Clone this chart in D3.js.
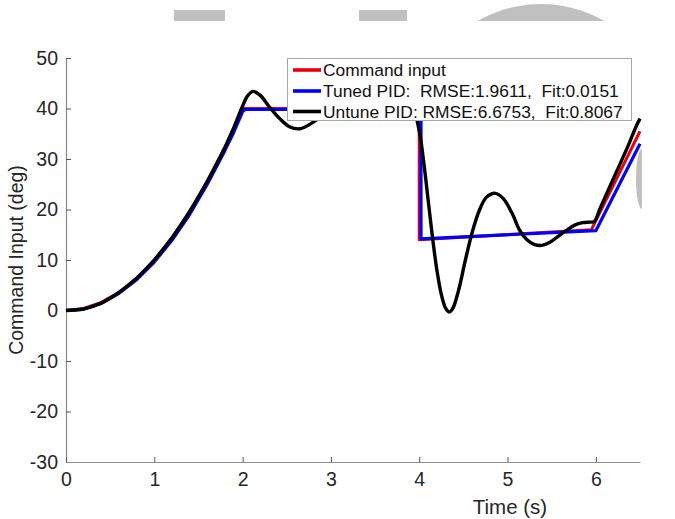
<!DOCTYPE html>
<html>
<head>
<meta charset="utf-8">
<script src="https://cdn.jsdelivr.net/npm/d3@7"></script>
<style>
  html, body { margin: 0; padding: 0; background: #fff; }
  svg { display: block; font-family: "Liberation Sans", Arial, sans-serif; }
</style>
</head>
<body>
<svg id="chart" width="675" height="519"></svg>
<script>
// ---------- data ----------
const xTicks = [0, 1, 2, 3, 4, 5, 6];
const yTicks = [-30, -20, -10, 0, 10, 20, 30, 40, 50];

const seriesNames = [
  "Command input",
  "Tuned PID:  RMSE:1.9611,  Fit:0.0151",
  "Untune PID: RMSE:6.6753,  Fit:0.8067"
];

const commandT = [0, 0.2, 0.4, 0.6, 0.8, 1.0, 1.2, 1.4, 1.6, 1.8, 1.9, 2.0, 4.0, 4.0, 5.95, 6.5];
const commandV = [0, 0.4, 1.6, 3.6, 6.4, 10.0, 14.4, 19.6, 25.6, 32.4, 36.1, 40.0, 40.0, 14.0, 16.0, 35.5];

const tunedT = [0, 0.2, 0.4, 0.6, 0.8, 1.0, 1.2, 1.4, 1.6, 1.8, 1.9, 2.0, 2.03, 4.02, 4.02, 6.0, 6.5];
const tunedV = [0, 0.3, 1.4, 3.4, 6.1, 9.6, 13.9, 19.0, 25.0, 31.7, 35.3, 39.4, 39.8, 39.8, 14.2, 15.8, 33.0];

const untunedT = [0, 0.2, 0.4, 0.6, 0.8, 1.0, 1.2, 1.4, 1.6, 1.8, 1.9, 2.0, 2.06, 2.12, 2.2, 2.3, 2.42, 2.53, 2.65, 2.8, 2.95, 3.1, 3.3, 3.5, 3.7, 3.85, 3.93, 4.0, 4.05, 4.1, 4.15, 4.2, 4.25, 4.3, 4.34, 4.38, 4.45, 4.52, 4.6, 4.68, 4.76, 4.86, 4.95, 5.05, 5.14, 5.22, 5.3, 5.39, 5.48, 5.58, 5.67, 5.76, 5.85, 5.93, 5.98, 6.05, 6.15, 6.25, 6.35, 6.46, 6.5];
const untunedV = [0, 0.3, 1.5, 3.6, 6.4, 10.0, 14.4, 19.6, 25.6, 32.3, 36.2, 40.5, 42.6, 43.4, 42.6, 40.4, 38.0, 36.4, 36.0, 37.3, 39.2, 40.6, 41.0, 40.4, 40.0, 40.2, 39.8, 35.5, 29.5, 22.0, 14.5, 8.0, 3.2, 0.4, -0.3, 0.4, 4.3, 9.8, 15.5, 19.8, 22.4, 23.2, 22.2, 19.3, 15.8, 14.0, 13.1, 12.9, 13.5, 14.8, 15.9, 16.9, 17.4, 17.5, 17.6, 20.3, 24.2, 28.1, 32.0, 36.6, 38.0];

const colors = ["#e8000b", "#0000ff", "#000000"];

// ---------- layout ----------
const svg = d3.select("#chart");
const x = d3.scaleLinear().domain([0, 6.5]).range([66, 640]);
const y = d3.scaleLinear().domain([-30, 50]).range([462, 58]);

// decorative gray shapes at top (present in reference)
const deco = svg.append("g").attr("fill", "#c0c0c0");
deco.append("rect").attr("x", 174).attr("y", 10).attr("width", 51).attr("height", 11);
deco.append("rect").attr("x", 359).attr("y", 10).attr("width", 48).attr("height", 11);
svg.append("clipPath").attr("id", "topclip").append("rect").attr("x", 0).attr("y", 0).attr("width", 675).attr("height", 21);
deco.append("circle").attr("cx", 541).attr("cy", 131).attr("r", 127).attr("clip-path", "url(#topclip)");
svg.append("clipPath").attr("id", "rightclip").append("rect").attr("x", 600).attr("y", 0).attr("width", 42).attr("height", 519);
deco.append("ellipse").attr("cx", 642).attr("cy", 179).attr("rx", 6).attr("ry", 30).attr("clip-path", "url(#rightclip)");

// ---------- axes ----------
const axisColor = "#8c8c8c";
const textColor = "#262626";
const fmt = d => String(d);

const yAxis = svg.append("g").attr("transform", `translate(${x(0)},0)`)
  .call(d3.axisLeft(y).tickValues(yTicks).tickSize(-5).tickSizeOuter(0).tickPadding(8).tickFormat(fmt));
const xAxis = svg.append("g").attr("transform", `translate(0,${y(-30)})`)
  .call(d3.axisBottom(x).tickValues(xTicks).tickSize(-5).tickSizeOuter(0).tickPadding(10).tickFormat(fmt));

[xAxis, yAxis].forEach(g => {
  g.select(".domain").attr("stroke", axisColor).attr("stroke-width", 1.2);
  g.selectAll(".tick line").attr("stroke", "#555").attr("stroke-width", 1);
  g.selectAll(".tick text").attr("fill", textColor).style("font-size", "19.5px")
    .style("font-family", "'Liberation Sans', Arial, sans-serif");
});

// axis labels
svg.append("text")
  .attr("x", 510).attr("y", 506)
  .attr("text-anchor", "middle").attr("dominant-baseline", "central")
  .attr("fill", textColor).style("font-size", "20.5px")
  .text("Time (s)");
svg.append("text")
  .attr("transform", `translate(16,${(y(50) + y(-30)) / 2}) rotate(-90)`)
  .attr("text-anchor", "middle").attr("dominant-baseline", "central")
  .attr("fill", textColor).style("font-size", "19.5px")
  .text("Command Input (deg)");

// ---------- lines ----------
const series = [
  { t: commandT, v: commandV, curve: d3.curveLinear, w: 3 },
  { t: tunedT, v: tunedV, curve: d3.curveLinear, w: 3.2 },
  { t: untunedT, v: untunedV, curve: d3.curveCatmullRom.alpha(0.5), w: 3.4 }
];
series.forEach((s, i) => {
  const pts = s.t.map((t, k) => [t, s.v[k]]);
  const line = d3.line().x(d => x(d[0])).y(d => y(d[1])).curve(s.curve);
  svg.append("path").datum(pts)
    .attr("d", line)
    .attr("fill", "none")
    .attr("stroke", colors[i])
    .attr("stroke-width", s.w)
    .attr("stroke-linejoin", "round");
});

// ---------- legend ----------
const lg = svg.append("g");
lg.append("rect").attr("x", 287.5).attr("y", 58.5).attr("width", 344).attr("height", 62)
  .attr("fill", "#fff").attr("stroke", "#a8a8a8").attr("stroke-width", 1);
const rowY = [70, 91, 111.5];
seriesNames.forEach((name, i) => {
  lg.append("line").attr("x1", 293).attr("x2", 321).attr("y1", rowY[i]).attr("y2", rowY[i])
    .attr("stroke", colors[i]).attr("stroke-width", 3.6);
  lg.append("text").attr("x", 323).attr("y", rowY[i])
    .attr("dominant-baseline", "central")
    .attr("fill", "#111").style("font-size", "17.4px").style("white-space", "pre")
    .text(name);
});
</script>
</body>
</html>
